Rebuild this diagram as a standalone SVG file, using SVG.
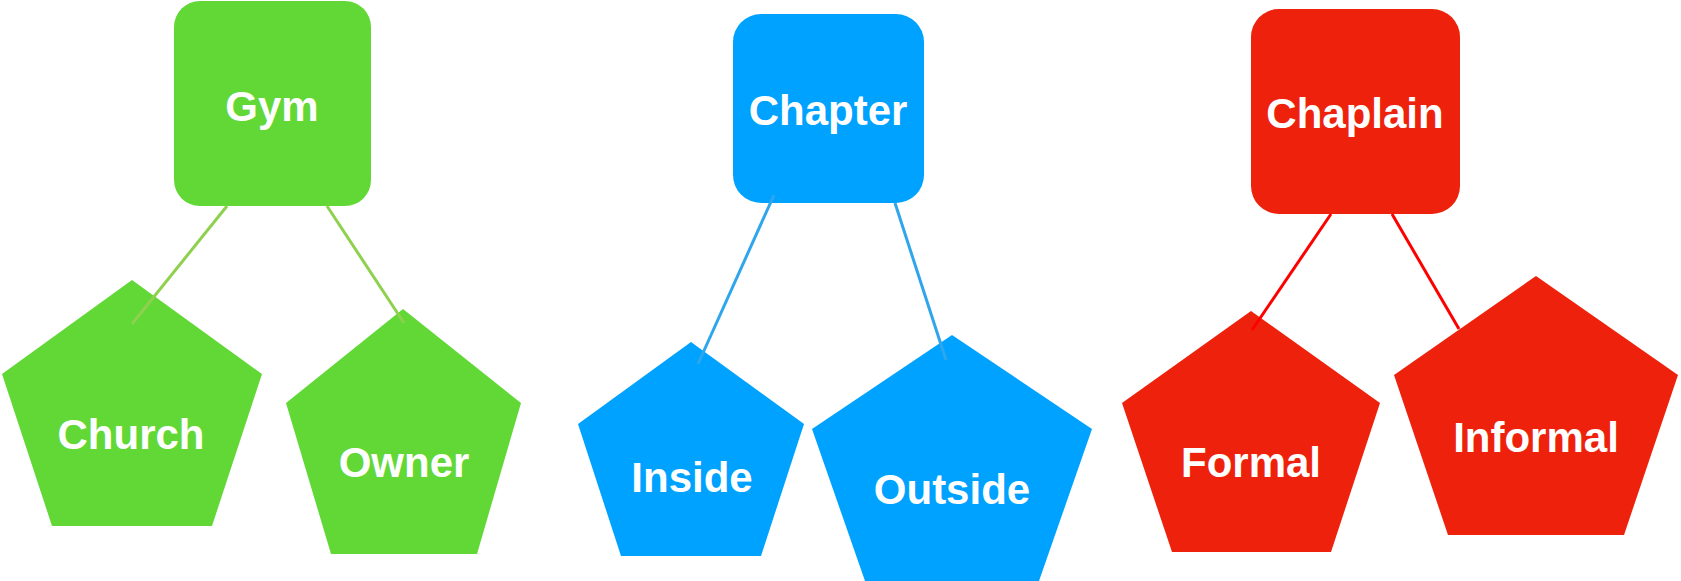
<svg xmlns="http://www.w3.org/2000/svg" width="1681" height="581" viewBox="0 0 1681 581">
<style>
.g{fill:#61d836}.b{fill:#00a2ff}.r{fill:#ee220c}
.t{font-family:"Liberation Sans",Arial,sans-serif;font-weight:bold;font-size:42px;fill:#fff;text-anchor:middle}
.c{stroke-width:3;fill:none;stroke-linecap:butt}
</style>
<rect width="1681" height="581" fill="#fff"/>
<g id="gym"><rect class="g" x="174" y="1" width="197" height="205" rx="26"/><text class="t" x="272" y="121">Gym</text></g>
<g id="church"><polygon class="g" points="132,280 262,374 212,526 52,526 2,374"/><text class="t" x="131" y="449">Church</text></g>
<g id="owner"><polygon class="g" points="403,309 521,403 477,554 331,554 286,403"/><text class="t" x="404" y="477">Owner</text></g>
<g id="chapter"><rect class="b" x="733" y="14" width="191" height="189" rx="28"/><text class="t" x="828" y="125">Chapter</text></g>
<g id="inside"><polygon class="b" points="691,342 804,424 761,556 621,556 578,424"/><text class="t" x="692" y="492">Inside</text></g>
<g id="outside"><polygon class="b" points="952,335 1092,429 1039,581 865,581 812,429"/><text class="t" x="952" y="504">Outside</text></g>
<g id="chaplain"><rect class="r" x="1251" y="9" width="209" height="205" rx="28"/><text class="t" x="1355" y="128">Chaplain</text></g>
<g id="formal"><polygon class="r" points="1251,311 1380,403 1331,552 1172,552 1122,403"/><text class="t" x="1251" y="477">Formal</text></g>
<g id="informal"><polygon class="r" points="1536,276 1678,375 1624,535 1448,535 1394,375"/><text class="t" x="1536" y="452">Informal</text></g>
<g id="connectors">
<line class="c" stroke="#8fd14f" x1="227" y1="206" x2="132" y2="324"/>
<line class="c" stroke="#8fd14f" x1="327" y1="206" x2="404" y2="323"/>
<line class="c" stroke="#2fa5ec" x1="774" y1="195" x2="698" y2="364"/>
<line class="c" stroke="#2fa5ec" x1="895" y1="203" x2="946" y2="360"/>
<line class="c" stroke="#ff0000" x1="1331" y1="214" x2="1252" y2="330"/>
<line class="c" stroke="#ff0000" x1="1392" y1="214" x2="1459" y2="329"/>
</g>
</svg>
